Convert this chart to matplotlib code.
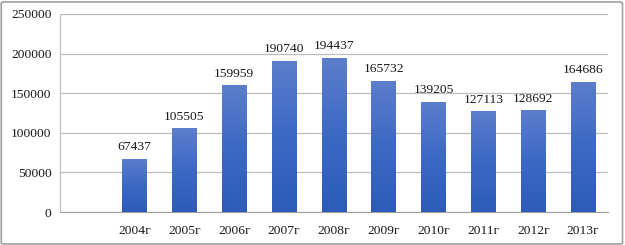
import matplotlib.pyplot as plt
import matplotlib.colors as mcolors
from matplotlib.patches import FancyBboxPatch
import numpy as np

years = ['', '2004г', '2005г', '2006г', '2007г', '2008г', '2009г', '2010г', '2011г', '2012г', '2013г']
values = [None, 67437, 105505, 159959, 190740, 194437, 165732, 139205, 127113, 128692, 164686]

plt.rcParams['font.family'] = ['Liberation Serif', 'DejaVu Serif']

fig = plt.figure(figsize=(6.25, 2.45), dpi=100)
ax = fig.add_axes([60 / 625, 33 / 245, 548 / 625, 198 / 245])

# gradient colours (top light, bottom dark)
cmap = mcolors.LinearSegmentedColormap.from_list('bar', ['#2c5bb9', '#3c69c4', '#5c7ecc'])
grad = np.linspace(0, 1, 256).reshape(-1, 1)

x = np.arange(len(years))
width = 0.5
for xi, v in zip(x, values):
    if v is None:
        continue
    bar = ax.bar(xi, v, width=width, color='none', edgecolor='none', zorder=3)[0]
    im = ax.imshow(grad, cmap=cmap, aspect='auto', origin='lower',
                   extent=[xi - width / 2, xi + width / 2, 0, v], zorder=3)
    im.set_clip_path(bar)
    ax.text(xi, v + 7000, str(v), ha='center', va='bottom', fontsize=9.7, color='#1a1a1a')

ax.set_xlim(-0.5, len(years) - 0.5)
ax.set_ylim(0, 250000)
ax.set_yticks(np.arange(0, 250001, 50000))
ax.set_xticks(x)
ax.set_xticklabels(years)
ax.tick_params(axis='both', length=0, labelsize=9.7, colors='#1a1a1a')
ax.tick_params(axis='x', pad=9)
ax.tick_params(axis='y', pad=6)

ax.grid(True, axis='y', color='#bebebe', linewidth=0.9, zorder=0)
for s in ['top', 'right']:
    ax.spines[s].set_visible(False)
ax.spines['left'].set_color('#bebebe')
ax.spines['bottom'].set_color('#a0a0a0')

# outer frame
frame = FancyBboxPatch((0.002, 0.004), 0.994, 0.988, boxstyle='round,pad=0,rounding_size=0.005',
                       transform=fig.transFigure, facecolor='none', edgecolor='#a0a0a0',
                       linewidth=1.2)
fig.patches.append(frame)

fig.savefig('out.png', dpi=100)
